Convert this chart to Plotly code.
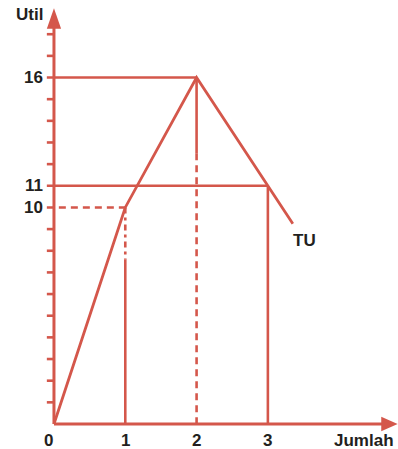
import plotly.graph_objects as go

# Total utility (TU) schedule
jumlah = [0, 1, 2, 3, 3.35]
util_total = [0, 10, 16, 11, 9.25]

x_ticks = [0, 1, 2, 3]
y_labels = [16, 11, 10]
y_minor = [1, 2, 3, 4, 5, 6, 7, 8, 9, 12, 13, 14, 15, 17, 18]

RED = "#d4574b"
INK = "#231f20"
FONT = "Liberation Sans, Arial, sans-serif"
FS = 17

X_MIN, X_MAX = -0.757, 4.825
Y_MIN, Y_MAX = -1.155, 19.58
X_AXIS_END = 4.82
Y_AXIS_END = 19.2
TICK_LEN = 0.1

fig = go.Figure()


def seg(xs, ys, dash="solid", width=2.6):
    fig.add_trace(go.Scatter(x=xs, y=ys, mode="lines",
                             line=dict(color=RED, width=width, dash=dash),
                             hoverinfo="skip", showlegend=False))


# reference lines to the axes
seg([-TICK_LEN, 2], [16, 16])
seg([-TICK_LEN, 3], [11, 11])
seg([-TICK_LEN, 1], [10, 10], dash="7px,5px")
seg([1, 1], [10, 7.6], dash="6px,4px,3px,4px")
seg([1, 1], [7.6, 0])
seg([2, 2], [16, 12.5])
seg([2, 2], [12.5, 0], dash="7px,5px")
seg([3, 3], [11, 0])

# TU curve
seg(jumlah, util_total, width=2.8)

# axes
seg([0, X_AXIS_END - 0.2], [0, 0], width=3)
seg([0, 0], [0, Y_AXIS_END - 0.9], width=3)
for v in y_minor:
    seg([-TICK_LEN, 0], [v, v], width=2.6)

shapes = [
    dict(type="path", xref="x", yref="y",
         path=f"M {X_AXIS_END - 0.23} -0.33 L {X_AXIS_END} 0 L {X_AXIS_END - 0.23} 0.33 Z",
         fillcolor=RED, line=dict(width=0)),
    dict(type="path", xref="x", yref="y",
         path=f"M -0.1 {Y_AXIS_END - 0.95} L 0 {Y_AXIS_END} L 0.1 {Y_AXIS_END - 0.95} Z",
         fillcolor=RED, line=dict(width=0)),
]

annotations = []
for v in y_labels:
    annotations.append(dict(x=-0.13, y=v, text=f"<b>{v}</b>", xanchor="right",
                            yanchor="middle", showarrow=False,
                            font=dict(family=FONT, size=FS, color=INK)))
for v in x_ticks:
    annotations.append(dict(x=v - (0.07 if v == 0 else 0), y=-0.25, text=f"<b>{v}</b>",
                            xanchor="center", yanchor="top", showarrow=False,
                            font=dict(family=FONT, size=FS, color=INK)))
annotations += [
    dict(x=-0.12, y=Y_AXIS_END - 0.3, text="<b>Util</b>", xanchor="right", yanchor="middle",
         showarrow=False, font=dict(family=FONT, size=FS, color=INK)),
    dict(x=4.35, y=-0.25, text="<b>Jumlah</b>", xanchor="center", yanchor="top",
         showarrow=False, font=dict(family=FONT, size=FS, color=INK)),
    dict(x=3.52, y=9.0, text="<b>TU</b>", xanchor="center", yanchor="top",
         showarrow=False, font=dict(family=FONT, size=FS, color=INK)),
]

fig.update_layout(
    width=398, height=449,
    margin=dict(l=0, r=0, t=0, b=0),
    paper_bgcolor="white", plot_bgcolor="white",
    xaxis=dict(range=[X_MIN, X_MAX], visible=False, fixedrange=True),
    yaxis=dict(range=[Y_MIN, Y_MAX], visible=False, fixedrange=True),
    shapes=shapes, annotations=annotations, showlegend=False,
)

fig.write_html("out.html", config={"displayModeBar": False})
